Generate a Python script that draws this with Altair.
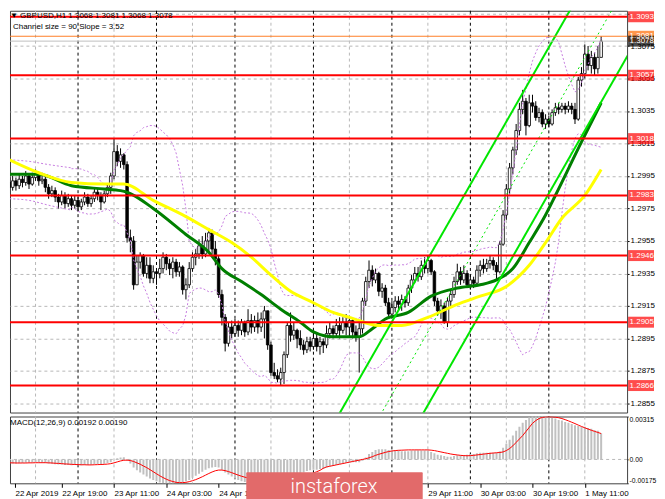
import altair as alt
import pandas as pd

FONT = "Liberation Sans"

# ---------------- data ----------------
first_label = "22 Apr 2019"
tick_bars = [16, 32, 48, 64, 128, 144, 160, 176]
tick_texts = ["22 Apr 19:00", "23 Apr 11:00", "24 Apr 03:00", "24 Apr 19:00",
              "29 Apr 11:00", "30 Apr 03:00", "30 Apr 19:00", "1 May 11:00"]
day_separators = [21, 45, 69, 93, 117, 141, 165]
grid_bars = [8, 32, 56, 80, 104, 128, 152, 176]
price_ticks = [1.2855, 1.2875, 1.2895, 1.2915, 1.2935, 1.2955, 1.2975, 1.2995, 1.3015, 1.3035, 1.3055, 1.3075, 1.3095]
levels = [1.3093, 1.3057, 1.3018, 1.2983, 1.2946, 1.2905, 1.2866]

first_open = 1.2991
closes = [
    1.2988, 1.2992, 1.2989, 1.2993, 1.2991, 1.2995, 1.2990, 1.2994, 1.2996, 1.2992,
    1.2993, 1.2988, 1.2984, 1.2986, 1.2982, 1.2979, 1.2983, 1.2978, 1.2981, 1.2977,
    1.2980, 1.2976, 1.2979, 1.2982, 1.2978, 1.2981, 1.2985, 1.2983, 1.2979, 1.2984, 1.2988,
    1.2995, 1.3010, 1.3004, 1.3008, 1.3002,
    1.2957, 1.2955, 1.2928, 1.2942, 1.2946, 1.2935, 1.2940, 1.2932, 1.2936, 1.2935, 1.2938, 1.2945, 1.2941,
    1.2938, 1.2942, 1.2936, 1.2939, 1.2925, 1.2928, 1.2938, 1.2945, 1.2947, 1.2952, 1.2947, 1.2955, 1.2960, 1.2950,
    1.2944, 1.2922, 1.2908, 1.2892, 1.2902, 1.2898, 1.2903, 1.2900, 1.2905, 1.2899, 1.2906, 1.2902, 1.2906,
    1.2902, 1.2907, 1.2912, 1.2891,
    1.2874, 1.2872, 1.2870, 1.2874, 1.2885, 1.2903, 1.2897, 1.2900, 1.2895, 1.2891, 1.2888, 1.2893, 1.2890,
    1.2895, 1.2890, 1.2893, 1.2891, 1.2898, 1.2901, 1.2898,
    1.2903, 1.2900, 1.2905, 1.2902, 1.2906, 1.2899, 1.2896, 1.2901, 1.2918, 1.2930, 1.2937, 1.2931, 1.2935,
    1.2924, 1.2926, 1.2917, 1.2910, 1.2914, 1.2918, 1.2916, 1.2919, 1.2917, 1.2926, 1.2931, 1.2935, 1.2933,
    1.2940, 1.2938, 1.2943, 1.2936,
    1.2918, 1.2912, 1.2915, 1.2905, 1.2918, 1.2922, 1.2930, 1.2936, 1.2931, 1.2935, 1.2928, 1.2931, 1.2929,
    1.2937, 1.2940, 1.2938, 1.2941, 1.2943, 1.2940, 1.2936,
    1.2953, 1.2971, 1.2987, 1.3000, 1.3011, 1.3023, 1.3036, 1.3041, 1.3026, 1.3040, 1.3038, 1.3031, 1.3034,
    1.3027, 1.3030, 1.3027,
    1.3034, 1.3037, 1.3036, 1.3038, 1.3036, 1.3038, 1.3036, 1.3030, 1.3054, 1.3058, 1.3070, 1.3063, 1.3068,
    1.3061, 1.3068, 1.3078,
]
highs = [
    1.2993, 1.2995, 1.2994, 1.2996, 1.2995, 1.2998, 1.2996, 1.2997, 1.2999, 1.2997,
    1.2997, 1.2995, 1.2990, 1.2989, 1.2988, 1.2984, 1.2986, 1.2985, 1.2984, 1.2983,
    1.2983, 1.2982, 1.2981, 1.2985, 1.2984, 1.2983, 1.2987, 1.2987, 1.2985, 1.2986, 1.2990,
    1.2997, 1.3018, 1.3014, 1.3012, 1.3009,
    1.3004, 1.2962, 1.2958, 1.2946, 1.2948, 1.2947, 1.2945, 1.2945, 1.2940, 1.2938, 1.2944, 1.2948, 1.2947,
    1.2944, 1.2945, 1.2944, 1.2942, 1.2940, 1.2932, 1.2942, 1.2948, 1.2950, 1.2956, 1.2958, 1.2960, 1.2963, 1.2962,
    1.2955, 1.2946, 1.2925, 1.2910, 1.2905, 1.2906, 1.2907, 1.2906, 1.2907, 1.2906, 1.2913, 1.2910, 1.2909,
    1.2911, 1.2911, 1.2915, 1.2912,
    1.2893, 1.2880, 1.2876, 1.2877, 1.2887, 1.2905, 1.2911, 1.2905, 1.2901, 1.2900, 1.2894, 1.2896, 1.2896,
    1.2900, 1.2898, 1.2896, 1.2895, 1.2903, 1.2905, 1.2903,
    1.2907, 1.2908, 1.2908, 1.2910, 1.2909, 1.2907, 1.2903, 1.2905, 1.2920, 1.2933, 1.2943, 1.2940, 1.2938,
    1.2936, 1.2929, 1.2928, 1.2920, 1.2918, 1.2921, 1.2921, 1.2922, 1.2921, 1.2928, 1.2934, 1.2939, 1.2939,
    1.2943, 1.2945, 1.2946, 1.2944,
    1.2937, 1.2920, 1.2919, 1.2917, 1.2920, 1.2925, 1.2933, 1.2941, 1.2939, 1.2940, 1.2937, 1.2934, 1.2933,
    1.2940, 1.2943, 1.2944, 1.2944, 1.2946, 1.2945, 1.2942,
    1.2955, 1.2974, 1.2990, 1.3003, 1.3013, 1.3027, 1.3040, 1.3048, 1.3043, 1.3045, 1.3045, 1.3041, 1.3037,
    1.3036, 1.3033, 1.3032,
    1.3036, 1.3040, 1.3040, 1.3040, 1.3040, 1.3041, 1.3040, 1.3040, 1.3056, 1.3062, 1.3076, 1.3075, 1.3072,
    1.3071, 1.3075, 1.3081,
]
lows = [
    1.2984, 1.2986, 1.2986, 1.2987, 1.2988, 1.2989, 1.2987, 1.2989, 1.2992, 1.2989,
    1.2990, 1.2985, 1.2981, 1.2982, 1.2979, 1.2975, 1.2977, 1.2975, 1.2976, 1.2974,
    1.2975, 1.2973, 1.2974, 1.2977, 1.2976, 1.2976, 1.2979, 1.2980, 1.2974, 1.2978, 1.2982,
    1.2984, 1.2993, 1.3001, 1.3000, 1.2999,
    1.2954, 1.2948, 1.2925, 1.2928, 1.2938, 1.2933, 1.2932, 1.2929, 1.2929, 1.2928, 1.2932, 1.2935, 1.2937,
    1.2934, 1.2932, 1.2933, 1.2933, 1.2922, 1.2919, 1.2926, 1.2936, 1.2940, 1.2944, 1.2944, 1.2945, 1.2948, 1.2947,
    1.2940, 1.2920, 1.2903, 1.2887, 1.2890, 1.2895, 1.2896, 1.2896, 1.2897, 1.2896, 1.2897, 1.2898, 1.2899,
    1.2898, 1.2899, 1.2895, 1.2888,
    1.2872, 1.2870, 1.2868, 1.2866, 1.2867, 1.2883, 1.2893, 1.2894, 1.2889, 1.2888, 1.2885, 1.2886, 1.2887,
    1.2888, 1.2887, 1.2885, 1.2886, 1.2889, 1.2895, 1.2895,
    1.2896, 1.2895, 1.2898, 1.2897, 1.2896, 1.2895, 1.2893, 1.2874, 1.2898, 1.2915, 1.2926, 1.2927, 1.2929,
    1.2921, 1.2920, 1.2915, 1.2907, 1.2908, 1.2911, 1.2913, 1.2912, 1.2914, 1.2915, 1.2923, 1.2929, 1.2930,
    1.2931, 1.2935, 1.2935, 1.2934,
    1.2915, 1.2909, 1.2907, 1.2904, 1.2902, 1.2914, 1.2920, 1.2928, 1.2928, 1.2929, 1.2926, 1.2925, 1.2926,
    1.2928, 1.2933, 1.2935, 1.2936, 1.2938, 1.2937, 1.2931,
    1.2935, 1.2952, 1.2968, 1.2984, 1.2996, 1.3008, 1.3020, 1.3033, 1.3020, 1.3025, 1.3034, 1.3029, 1.3028,
    1.3025, 1.3024, 1.3025,
    1.3026, 1.3032, 1.3033, 1.3034, 1.3033, 1.3034, 1.3033, 1.3027, 1.3029, 1.3050, 1.3055, 1.3060, 1.3058,
    1.3057, 1.3058, 1.3068,
]

green_ma_bar = [0, 9, 19, 29, 34, 36, 44, 54, 61, 65, 71, 77, 83, 89, 93, 99, 107, 111, 115, 122, 129, 137,
                144, 149, 154, 159, 164, 167, 175, 181]
green_ma_val = [1.2996, 1.2996, 1.2989, 1.2987, 1.2986, 1.2985, 1.2975, 1.2959, 1.2948, 1.2938, 1.2930, 1.2922,
                1.2913, 1.2905, 1.2899, 1.2896, 1.2896, 1.2901, 1.2907, 1.2911, 1.2921, 1.2926, 1.2928, 1.2931,
                1.2938, 1.2954, 1.2971, 1.2983, 1.3016, 1.3040]
yellow_ma_bar = [0, 9, 19, 29, 35, 44, 54, 61, 68, 74, 80, 86, 92, 99, 104, 113, 120, 128, 137, 144, 152, 159,
                 164, 169, 176, 181]
yellow_ma_val = [1.3005, 1.2997, 1.2991, 1.2990, 1.2990, 1.2980, 1.2970, 1.2962, 1.2954, 1.2945, 1.2934, 1.2924,
                 1.2918, 1.2911, 1.2908, 1.2903, 1.2903, 1.2908, 1.2916, 1.2921, 1.2927, 1.2940, 1.2954, 1.2969,
                 1.2983, 1.2999]
bands_period = 20
bands_deviation = 2
# bands over the first bars (their window reaches before the visible data)
bands_head_bar = [0, 6, 12, 19]
bands_head_up = [1.3005, 1.3004, 1.3002, 1.3000]
bands_head_lo = [1.2981, 1.2980, 1.2977, 1.2974]

channel_size_pips = 90
channel_slope_pips = 3.52
channel_anchor_bar = 130
channel_anchor_price = 1.2906
channel_bars = [90, 200]

# MACD (units of 1e-4)
macd_hist_e4 = [
    -3.0, -3.2, -3.0, -2.8, -2.6, -2.5, -2.3, -2.2, -2.0, -2.1,
    -2.3, -2.6, -3.0, -3.2, -3.5, -3.8, -3.8, -4.0, -4.0, -4.2,
    -4.1, -4.3, -4.2, -4.0, -4.1, -3.9, -3.6, -3.4, -3.4, -3.1, -2.7,
    -2.0, 0.0, 0.8, 1.5, 1.6,
    -1, -3, -6, -8, -9.5, -11, -12.5, -14, -15, -16, -17, -17.5, -18, -18, -18, -17.5, -17, -16.5, -16, -15,
    -13.5, -12, -10.5, -9, -7.5, -6.5, -6, -5.5, -6, -7.5, -9.5, -11, -12.5, -14, -15, -16, -16.5,
    -17, -17.5, -17.5, -17, -16.5, -16.5, -16, -17, -19, -20, -20.5, -20, -18, -16, -14, -12, -10.5, -9.5,
    -8.5, -8, -7.5, -7.5, -7,
    -7, -6, -5, -4.5, -4, -3.5, -3, -2.5, -2.5, -2, -2, -2,
    -1, 1.5, 4, 5.5, 7, 7.5, 7.5, 7.5, 7, 6.5, 6.5, 6.5, 6, 6, 6, 6.5, 6.5, 6.5, 6.5, 6.5, 6.5, 5.5, 4.5,
    3.5, 3, 2.5, 2, 2, 2.5, 3, 3, 3, 3.5, 4, 4, 4.5, 5, 5, 5, 5, 5, 5, 6,
    8.5, 11.5, 14.5, 17.5, 21, 24, 27, 29, 31, 32.5, 33, 33, 32.5, 32, 31, 30.5, 30, 29, 28.5, 27.5, 27, 26,
    25, 24.5, 24, 24, 23, 22.5, 21.5, 21, 19.2,
]
macd_signal_e4 = [
    -2.5, -2.5, -2.6, -2.6, -2.6, -2.6, -2.5, -2.5, -2.4, -2.4,
    -2.4, -2.4, -2.5, -2.6, -2.8, -2.9, -3.1, -3.3, -3.4, -3.6,
    -3.7, -3.8, -3.9, -3.9, -4.0, -4.0, -3.9, -3.8, -3.7, -3.6, -3.4,
    -3.1, -2.5, -1.8, -1.1, -0.6,
    -0.5, -0.8, -1.5, -2.5, -3.5, -4.8, -6.0, -7.5, -9.0, -10.5, -12.0, -13.3, -14.5, -15.5, -16.2,
    -16.8, -17.0, -17.0, -16.8, -16.3, -15.6, -14.8, -13.8, -12.7, -11.5, -10.3, -9.2, -8.3, -7.8, -7.8,
    -8.2, -8.9, -9.7, -10.6, -11.5, -12.3, -13.0,
    -13.6, -14.0, -14.4, -14.6, -14.8, -15.0, -15.2, -15.5, -16.0, -16.5, -17.0, -17.2, -17.0, -16.5,
    -15.8, -15.0, -14.0, -13.0, -12.0, -11.0, -10.0, -9.0, -8.0,
    -6.5, -5.5, -5.0, -4.5, -4.0, -3.5, -3.0, -2.5, -2.0, -1.5, -1.0, -0.5,
    0.0, 0.5, 1.2, 2.0, 3.0, 3.8, 4.5, 5.2, 5.8, 6.2, 6.5, 6.7, 6.8,
    6.9, 7.0, 7.0, 7.0, 7.0, 7.0, 7.0, 7.0, 6.8, 6.5, 6.0, 5.5, 5.0, 4.5, 4.0, 3.6, 3.3, 3.0, 2.8, 2.7,
    2.8, 3.0, 3.3, 3.6, 3.9, 4.2, 4.5, 4.7, 4.9, 5.1,
    5.5, 6.5, 8.0, 10.0, 12.5, 15.0, 17.5, 20.5, 23.5, 26.5, 28.5, 30.0, 30.8, 31.2, 31.3, 31.2, 31.0,
    30.6, 30.0, 29.2, 28.3, 27.3, 26.3, 25.2, 24.2, 23.2, 22.3, 21.4, 20.6, 19.8, 19.0,
]
macd_axis_values = [-0.00175, 0.0, 0.00315]
macd_last_main = 0.00192
macd_last_signal = 0.00190

# ---------------- layout constants ----------------
W = 619
H_MAIN = 403
H_MACD = 67
PX_PER_BAR = 3.3333
X0 = 1.71
X1 = X0 + W / PX_PER_BAR
P_TOP = 1.30967
P_BOT = 1.28494

n = len(closes)
opens = [first_open] + closes[:-1]
bars = pd.DataFrame({"i": list(range(n)), "open": opens, "high": highs, "low": lows, "close": closes})
macd = pd.DataFrame({"i": list(range(n)),
                     "hist": [v / 1e4 for v in macd_hist_e4],
                     "sig": [v / 1e4 for v in macd_signal_e4]})

xs = alt.Scale(domain=[X0, X1], nice=False, zero=False)
ys = alt.Scale(domain=[P_BOT, P_TOP], nice=False, zero=False)
ms = alt.Scale(domain=[macd_axis_values[0], macd_axis_values[2]], nice=False, zero=False)

# the top grid label sits under the 1.3093 box in the reference
price_axis = alt.Axis(orient="right", values=price_ticks,
                      labelExpr=f"datum.value > {P_TOP - 0.0003} ? '' : format(datum.value, '.4f')",
                      grid=True, gridColor="#b8b8b8",
                      gridDash=[3, 3], domain=False, tickSize=2, tickColor="#000", labelFont=FONT,
                      labelFontSize=8, labelColor="#000", labelPadding=1, title=None, labelOverlap=False)

X = lambda: alt.X("i:Q", scale=xs, axis=None)
Y = lambda f: alt.Y(f"{f}:Q", scale=ys, axis=price_axis)

# vertical grid / separators
vgrid = alt.Chart(pd.DataFrame({"i": grid_bars})).mark_rule(color="#b8b8b8", strokeDash=[3, 3], strokeWidth=1).encode(x=X())
vsep = alt.Chart(pd.DataFrame({"i": day_separators})).mark_rule(color="#000", strokeDash=[3, 3], strokeWidth=1).encode(x=X())

wicks = alt.Chart(bars).mark_rule(color="#000", strokeWidth=1, clip=True).encode(
    x=X(), y=Y("low"), y2="high:Q")
bodies = alt.Chart(bars).mark_bar(width=2.6, stroke="#000", strokeWidth=0.8, clip=True).encode(
    x=X(), y=Y("open"), y2="close:Q",
    color=alt.condition("datum.close >= datum.open", alt.value("#ffffff"), alt.value("#000000")))

BAND_STYLE = dict(color="#c77ee0", strokeWidth=1, strokeDash=[2, 2], clip=True)
bands = alt.Chart(bars).transform_window(
    mid="mean(close)", sd="stdev(close)", frame=[-(bands_period - 1), 0]
).transform_filter(f"datum.i >= {bands_period - 1}").transform_calculate(
    up=f"datum.mid + {bands_deviation} * datum.sd", lo=f"datum.mid - {bands_deviation} * datum.sd"
).transform_fold(["up", "lo"], as_=["band", "p"]).mark_line(**BAND_STYLE).encode(
    x=X(), y=Y("p"), detail="band:N")
bands_head = alt.Chart(pd.DataFrame({"i": bands_head_bar, "up": bands_head_up, "lo": bands_head_lo})).transform_fold(
    ["up", "lo"], as_=["band", "p"]).mark_line(interpolate="monotone", **BAND_STYLE).encode(
    x=X(), y=Y("p"), detail="band:N")

green_ma = alt.Chart(pd.DataFrame({"i": green_ma_bar, "p": green_ma_val})).mark_line(
    color="#007f00", strokeWidth=3, interpolate="monotone", clip=True).encode(x=X(), y=Y("p"))
yellow_ma = alt.Chart(pd.DataFrame({"i": yellow_ma_bar, "p": yellow_ma_val})).mark_line(
    color="#ffff00", strokeWidth=3, interpolate="monotone", clip=True).encode(x=X(), y=Y("p"))

rows = []
half = channel_size_pips / 2 / 1e4
for b in channel_bars:
    c = channel_anchor_price + (b - channel_anchor_bar) * channel_slope_pips / 1e4
    rows += [{"line": "up", "i": b, "p": c + half}, {"line": "lo", "i": b, "p": c - half}, {"line": "mid", "i": b, "p": c}]
chan = pd.DataFrame(rows)
chan_solid = alt.Chart(chan).transform_filter("datum.line != 'mid'").mark_line(
    color="#00e600", strokeWidth=2, clip=True).encode(x=X(), y=Y("p"), detail="line:N")
chan_mid = alt.Chart(chan).transform_filter("datum.line == 'mid'").mark_line(
    color="#00e600", strokeWidth=1, strokeDash=[2, 3], clip=True).encode(x=X(), y=Y("p"))

lev_df = pd.DataFrame({"p": levels, "t": [f"{v:.4f}" for v in levels], "col": ["#ff0000"] * len(levels)})
lev_rules = alt.Chart(lev_df).mark_rule(color="#ff0000", strokeWidth=2).encode(y=Y("p"))

last_h, last_c = highs[-1], closes[-1]
cur_df = pd.DataFrame({"p": [last_h, last_c], "t": [f"{last_h:.4f}", f"{last_c:.4f}"],
                       "col": ["#ff6a00", "#000000"], "lc": ["#ff7f27", "#c0c0c0"]})
cur_rules = alt.Chart(cur_df).mark_rule(strokeWidth=1).encode(y=Y("p"), color=alt.Color("lc:N", scale=None))

def boxes(df):
    b = alt.Chart(df).mark_tick(thickness=11, size=26).encode(
        x=alt.value(W + 14), y=Y("p"), color=alt.Color("col:N", scale=None))
    t = alt.Chart(df).mark_text(align="left", baseline="middle", font=FONT, fontSize=8, color="#ffffff").encode(
        x=alt.value(W + 2.5), y=Y("p"), text="t:N")
    return b + t

title_txt = "\u25bc  GBPUSD,H1  " + " ".join(f"{v:.4f}" for v in [opens[-1], highs[-1], lows[-1], closes[-1]])
chan_txt = f"Channel size = {channel_size_pips} Slope = {channel_slope_pips:.2f}"
title1 = alt.Chart(pd.DataFrame({"t": [title_txt]})).mark_text(
    align="left", baseline="top", font=FONT, fontSize=8, color="#000").encode(
    x=alt.value(0), y=alt.value(1), text="t:N")
title2 = alt.Chart(pd.DataFrame({"t": [chan_txt]})).mark_text(
    align="left", baseline="top", font=FONT, fontSize=8, color="#000").encode(
    x=alt.value(3), y=alt.value(12), text="t:N")

main = alt.layer(vgrid, vsep, wicks, bodies, bands, bands_head, green_ma, yellow_ma, chan_solid, chan_mid,
                 lev_rules, cur_rules, boxes(lev_df), boxes(cur_df), title1, title2).properties(width=W, height=H_MAIN)

# ---------------- MACD panel ----------------
lab_map = {X0: first_label}
lab_map.update(dict(zip(tick_bars, tick_texts)))
label_expr = "{" + ",".join(f"'{k}':'{v}'" for k, v in lab_map.items()) + "}[datum.value]"
time_axis = alt.Axis(orient="bottom", values=[X0] + tick_bars, labelExpr=label_expr, labelAlign="left",
                     labelFont=FONT, labelFontSize=8, labelColor="#000", tickSize=4, tickColor="#000",
                     labelPadding=2, domain=False, grid=False, title=None, labelOverlap=False, labelFlush=False)
macd_labels = {v: ("0.00" if v == 0 else f"{v:.5f}") for v in macd_axis_values}
macd_expr = "datum.value < 0 ? '%s' : datum.value > 0 ? '%s' : '%s'" % (
    macd_labels[macd_axis_values[0]], macd_labels[macd_axis_values[2]], macd_labels[0.0])
macd_axis = alt.Axis(orient="right", values=macd_axis_values, labelExpr=macd_expr, labelFlush=True, grid=False,
                     domain=False, tickSize=1, tickColor="#000", labelFont=FONT, labelFontSize=6.8,
                     labelColor="#000", labelPadding=1, title=None)

MX = lambda: alt.X("i:Q", scale=xs, axis=time_axis)
MY = lambda f: alt.Y(f"{f}:Q", scale=ms, axis=macd_axis)

m_vgrid = alt.Chart(pd.DataFrame({"i": grid_bars})).mark_rule(color="#b8b8b8", strokeDash=[3, 3]).encode(x=MX())
m_vsep = alt.Chart(pd.DataFrame({"i": day_separators})).mark_rule(color="#000", strokeDash=[3, 3]).encode(x=MX())
m_zero = alt.Chart(pd.DataFrame({"v": [0.0]})).mark_rule(color="#b8b8b8", strokeDash=[3, 3]).encode(y=MY("v"))
m_hist = alt.Chart(macd).mark_bar(width=2, color="#c0c0c0", clip=True).encode(x=MX(), y=MY("hist"))
m_sig = alt.Chart(macd).mark_line(color="#ff0000", strokeWidth=1, clip=True).encode(x=MX(), y=MY("sig"))
m_title = alt.Chart(pd.DataFrame({"t": [f"MACD(12,26,9) {macd_last_main:.5f} {macd_last_signal:.5f}"]})).mark_text(
    align="left", baseline="middle", font=FONT, fontSize=8, color="#000").encode(
    x=alt.value(0), y=alt.value(7), text="t:N")
logo_box = alt.Chart(pd.DataFrame({"a": [0]})).mark_rect(color="#e26a6a", cornerRadius=1).encode(
    x=alt.value(237), x2=alt.value(414), y=alt.value(56), y2=alt.value(86))
logo_txt = alt.Chart(pd.DataFrame({"t": ["instaforex"]})).mark_text(
    align="center", baseline="middle", font="Roboto", fontSize=20, fontWeight=300, color="#ffffff").encode(
    x=alt.value(325), y=alt.value(71), text="t:N")

macd_panel = alt.layer(m_vgrid, m_vsep, m_zero, m_hist, m_sig, m_title, logo_box, logo_txt).properties(
    width=W, height=H_MACD)

chart = alt.vconcat(main, macd_panel, spacing=2).properties(
    padding={"left": 0, "top": 0, "right": 0, "bottom": 0}, background="#ffffff"
).configure_view(stroke="#404040", strokeWidth=1)

chart.save("out.html", embed_options={"renderer": "svg", "actions": False})
